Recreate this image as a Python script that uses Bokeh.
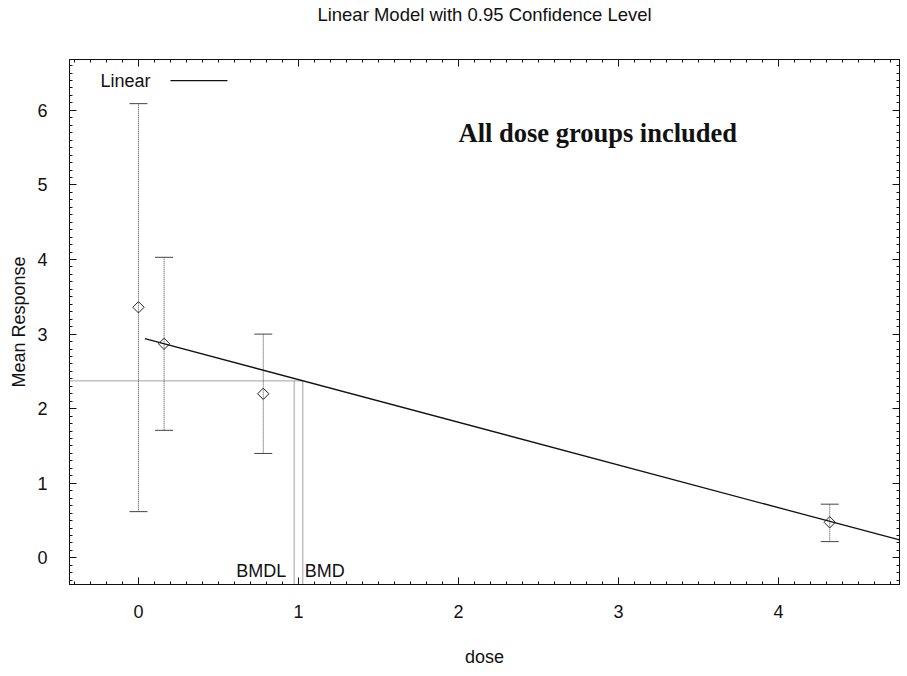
import math
from bokeh.plotting import figure
from bokeh.models import (Range1d, SingleIntervalTicker, LinearAxis, Whisker, TeeHead,
                          Label, Arrow, ColumnDataSource, CustomJSTickFormatter)
from bokeh.embed import file_html
from bokeh.resources import INLINE

# ---- data ----
dose = [0.0, 0.16, 0.78, 4.32]
mean_resp = [3.36, 2.87, 2.20, 0.477]
ci_lower = [0.62, 1.71, 1.40, 0.218]
ci_upper = [6.09, 4.03, 3.00, 0.72]
model_dose = [0.04, 4.756]
model_resp = [2.94, 0.24]
bmd = 1.027
bmdl = 0.973
bmr_resp = 2.373
x_lim = [-0.431, 4.756]
y_lim = [-0.357, 6.682]
title_text = "Linear Model with 0.95 Confidence Level"

FONT = "Liberation Sans"

p = figure(width=907, height=676, x_range=Range1d(*x_lim), y_range=Range1d(*y_lim),
           output_backend="svg", toolbar_location=None,
           min_border_left=69, min_border_right=8, min_border_top=58, min_border_bottom=92)
p.xgrid.visible = False
p.ygrid.visible = False
p.outline_line_color = "#111111"
p.outline_line_width = 1
p.background_fill_color = "white"
p.border_fill_color = "white"


def style_axis(ax, labels=True):
    ax.ticker = SingleIntervalTicker(interval=1, num_minor_ticks=10)
    ax.major_tick_in = 7
    ax.major_tick_out = 0
    ax.minor_tick_in = 3
    ax.minor_tick_out = 0
    ax.axis_line_color = "#111111"
    ax.major_tick_line_color = "#111111"
    ax.minor_tick_line_color = "#111111"
    ax.major_label_text_font = FONT
    ax.major_label_text_color = "#111111"
    ax.major_label_text_font_size = "18px"
    ax.axis_label_text_font = FONT
    ax.axis_label_text_font_size = "18px"
    ax.axis_label_text_font_style = "normal"
    ax.axis_label_text_color = "#111111"
    if not labels:
        ax.formatter = CustomJSTickFormatter(code="return ''")
        ax.major_label_standoff = 0


xa = p.xaxis[0]
ya = p.yaxis[0]
style_axis(xa)
style_axis(ya)
xa.axis_label = "dose"
ya.axis_label = "Mean Response"
xa.major_label_standoff = 20
xa.axis_label_standoff = 26
ya.major_label_standoff = 22
ya.axis_label_standoff = 5

# top axis: ticks only, carries the chart title as its label
top = LinearAxis()
style_axis(top, labels=False)
top.axis_label = title_text
top.axis_label_text_font_size = "18.5px"
top.axis_label_standoff = 35
p.add_layout(top, "above")

right = LinearAxis()
style_axis(right, labels=False)
p.add_layout(right, "right")

# ---- BMD / BMDL reference lines ----
ref_color = "#444444"
p.segment(x0=[x_lim[0], bmdl, bmd], y0=[bmr_resp, y_lim[0], y_lim[0]],
          x1=[bmd, bmdl, bmd], y1=[bmr_resp, bmr_resp, bmr_resp],
          line_color=ref_color, line_width=1, line_dash="1 1")

# ---- error bars ----
src = ColumnDataSource(dict(dose=dose, mean=mean_resp, lower=ci_lower, upper=ci_upper))
wk = Whisker(source=src, base="dose", lower="lower", upper="upper", dimension="height",
             line_color=ref_color, line_width=1, line_dash="1 1",
             upper_head=TeeHead(size=18, line_color=ref_color, line_width=1),
             lower_head=TeeHead(size=18, line_color=ref_color, line_width=1))
p.add_layout(wk)

# ---- model line ----
p.line(model_dose, model_resp, line_color="#111111", line_width=1.3)

# ---- observed means ----
p.scatter("dose", "mean", source=src, marker="square", angle=math.pi / 4, size=8,
          fill_color=None, line_color="#222222", line_width=1)

# ---- labels ----
p.add_layout(Label(x=bmdl, y=-0.18, x_offset=-8, text="BMDL", text_align="right",
                   text_baseline="alphabetic", text_font=FONT, text_font_size="18px",
                   text_color="#111111"))
p.add_layout(Label(x=bmd, y=-0.18, x_offset=2, text="BMD", text_align="left",
                   text_baseline="alphabetic", text_font=FONT, text_font_size="18px",
                   text_color="#111111"))
p.add_layout(Label(x=2.0, y=5.69, text="All dose groups included", text_align="left",
                   text_baseline="alphabetic", text_font="Liberation Serif",
                   text_font_style="bold", text_font_size="26.5px", text_color="#111111"))

# ---- legend (text left, line right) ----
p.add_layout(Label(x=-0.2375, y=6.40, text="Linear", text_align="left",
                   text_baseline="alphabetic", text_font=FONT, text_font_size="18px",
                   text_color="#111111"))
p.add_layout(Arrow(x_start=0.2, y_start=6.40, x_end=0.556, y_end=6.40, end=None,
                   line_color="#111111", line_width=1.2))

open("out.html", "w").write(file_html(p, INLINE))
